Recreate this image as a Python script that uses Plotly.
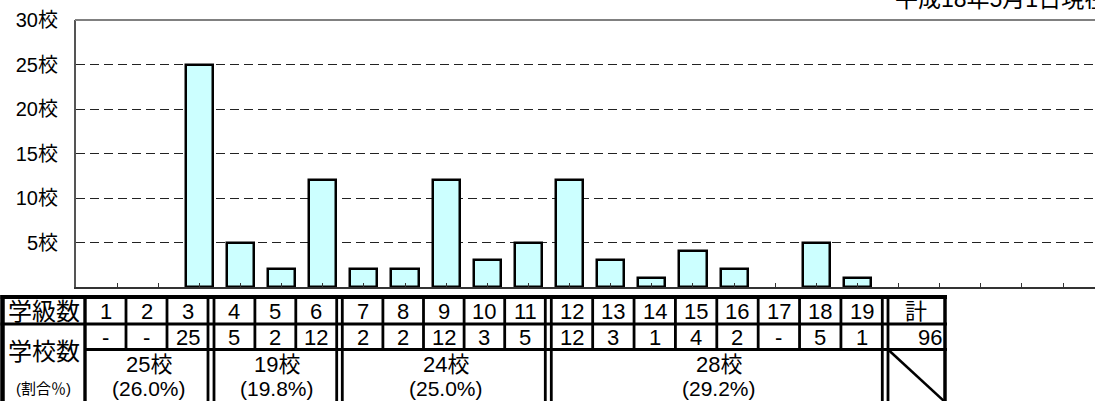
import plotly.graph_objects as go

# ---------------- data ----------------
classes = list(range(1, 20))                      # 学級数
schools = [None, None, 25, 5, 2, 12, 2, 2, 12, 3, 5,
           12, 3, 1, 4, 2, None, 5, 1]            # 学校数 (None = "-")
total = 96
y_ticks = [5, 10, 15, 20, 25, 30]
y_tick_labels = ["5校", "10校", "15校", "20校", "25校", "30校"]
groups = [(1, 3), (4, 6), (7, 11), (12, 19)]     # class-count groups
group_counts = ["25校", "19校", "24校", "28校"]
group_shares = ["(26.0%)", "(19.8%)", "(25.0%)", "(29.2%)"]
date_note = "平成18年5月1日現在"

# ---------------- layout geometry (pixels) ----------------
W, H = 1095, 401
PLOT_L, PLOT_T, PLOT_B = 76, 20, 287
UNIT = 41.13                                  # px per category on x axis
FONT = "Liberation Sans, Arial, Noto Sans CJK JP, sans-serif"

GROUP_PX = [(85, 208), (214, 336.7), (342.3, 545.3), (551.3, 882.3)]
TOTAL_PX = (888, 945)
TOP, R1, R2, BOT = 297, 324, 349.5, 406
LEFT_X, LABEL_R = 2.5, 85


def px(x):
    return x / W


def py(y):
    return (H - y) / H


fig = go.Figure()
fig.add_trace(go.Bar(
    x=classes, y=schools, width=0.66,
    marker=dict(color="#CCFFFF", line=dict(color="black", width=2.5)),
    hoverinfo="x+y", showlegend=False,
))

shapes = []
annotations = []


def line(x0, y0, x1, y1, w=3, color="black"):
    shapes.append(dict(type="line", xref="paper", yref="paper",
                       x0=px(x0), y0=py(y0), x1=px(x1), y1=py(y1),
                       line=dict(color=color, width=w), layer="above"))


def text(x, y, s, size=20, xanchor="center"):
    annotations.append(dict(xref="paper", yref="paper", x=px(x), y=py(y),
                            text=s, showarrow=False, xanchor=xanchor,
                            yanchor="middle",
                            font=dict(family=FONT, size=size, color="black")))


# top border of plot area
line(PLOT_L - 1, PLOT_T, W + 2, PLOT_T, w=2, color="#808080")

# ---------- table ----------
right_x = TOTAL_PX[1]
line(0.5, TOP, right_x + 2, TOP, w=4)
line(0.5, R1, right_x + 2, R1, w=3)
line(LABEL_R - 1, R2, right_x + 2, R2, w=3)
line(LEFT_X, TOP - 2, LEFT_X, BOT, w=4.5)
line(LABEL_R, TOP - 2, LABEL_R, BOT, w=3)
line(right_x, TOP - 2, right_x, BOT, w=3.5)

col_centers = []
for (g0, g1), (x0, x1) in zip(groups, GROUP_PX):
    n = g1 - g0 + 1
    cw = (x1 - x0) / n
    line(x0, TOP - 2, x0, BOT, w=2.8)
    line(x1, TOP - 2, x1, BOT, w=2.8)
    for k in range(1, n):
        line(x0 + k * cw, TOP, x0 + k * cw, R2, w=2.8)
    for k in range(n):
        col_centers.append(x0 + (k + 0.5) * cw)
line(TOTAL_PX[0], TOP - 2, TOTAL_PX[0], BOT, w=2.8)
# diagonal in the total cell
line(TOTAL_PX[0], R2, TOTAL_PX[1], 402, w=2.5)

# row labels
text(LABEL_R / 2 + 1, (TOP + R1) / 2 + 0.5, "学級数", size=24)
text(LABEL_R / 2 + 1, 351, "学校数", size=24)
text(LABEL_R / 2 + 1, 388.5, "(割合％)", size=15)

# row 1 and row 2 values
for c, s, xc in zip(classes, schools, col_centers):
    text(xc, (TOP + R1) / 2 + 0.5, str(c), size=22)
    text(xc, (R1 + R2) / 2 + 0.5, "-" if s is None else str(s), size=22)
text(sum(TOTAL_PX) / 2, (TOP + R1) / 2 + 0.5, "計", size=22)
text(TOTAL_PX[1] - 1, (R1 + R2) / 2 + 0.5, str(total), size=22, xanchor="right")

# group summary rows
for (x0, x1), cnt, share in zip(GROUP_PX, group_counts, group_shares):
    xc = (x0 + x1) / 2 + 2
    text(xc, 364.5, cnt, size=22)
    text(xc, 388, share, size=21)

# date note (cut at top right)
text(893, -1.5, date_note, size=23, xanchor="left")

x_range_max = (W - PLOT_L) / UNIT
fig.update_layout(
    width=W, height=H,
    margin=dict(l=0, r=0, t=0, b=0, autoexpand=False),
    paper_bgcolor="white", plot_bgcolor="white",
    bargap=0, showlegend=False,
    shapes=shapes, annotations=annotations,
    font=dict(family=FONT, size=20, color="black"),
    xaxis=dict(
        domain=[px(PLOT_L), 1], range=[0, x_range_max],
        tickvals=list(range(1, 25)), showticklabels=False,
        ticks="inside", ticklen=4, tickwidth=1, tickcolor="#333",
        showgrid=False, zeroline=False,
        showline=True, linecolor="#333", linewidth=2,
    ),
    yaxis=dict(
        domain=[py(PLOT_B), py(PLOT_T)], range=[0, 30],
        tickvals=y_ticks, ticktext=y_tick_labels,
        tickfont=dict(family=FONT, size=20, color="black"),
        ticks="", ticklabelstandoff=12,
        showgrid=True, gridcolor="#222", gridwidth=1, griddash="9px,5px",
        zeroline=False,
        showline=True, linecolor="#555", linewidth=2,
    ),
)

fig.write_html(
    "out.html",
    config={"displayModeBar": False},
    post_script="document.body.style.margin='0';document.body.style.overflow='hidden';",
)
